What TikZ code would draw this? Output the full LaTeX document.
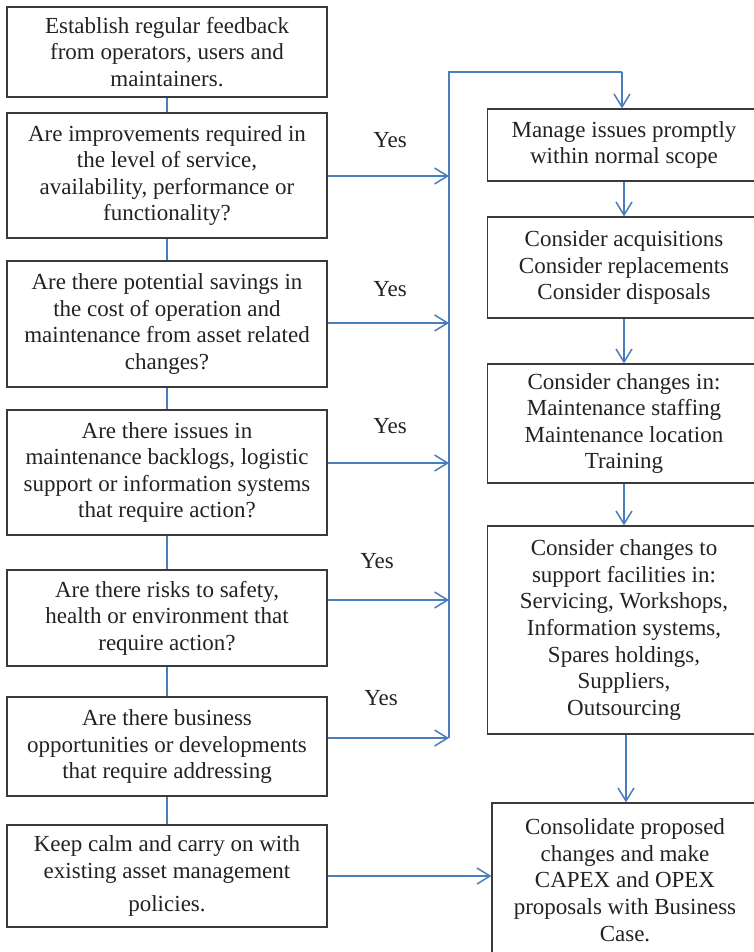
\documentclass[tikz,border=0pt]{standalone}
\usepackage{fontspec}
\setmainfont{Liberation Serif}
\usetikzlibrary{arrows.meta}
\definecolor{conn}{HTML}{4A7EBB}
\definecolor{boxline}{HTML}{3A3A3A}
\definecolor{txt}{HTML}{222222}
\tikzset{
  box/.style={draw=boxline, line width=0.6pt, align=center, inner sep=0pt, text=txt,
    font=\fontsize{11.5}{13.3}\selectfont},
  lbox/.style={box, minimum width=160pt},
  rbox/.style={box, minimum width=136.5pt},
  link/.style={draw=conn, line width=0.75pt},
  flow/.style={link, -{Straight Barb[length=6.5pt,width=8pt,line width=0.75pt]}},
  yes/.style={text=txt, font=\fontsize{11.5}{13.3}\selectfont, inner sep=0pt}
}
\begin{document}
\begin{tikzpicture}[x=0.5pt,y=-0.5pt]
\useasboundingbox (0,0) rectangle (754,952);
\clip (0,0) rectangle (754,952);
% left column
\node[lbox, minimum height=45pt] (b1) at (167,52) {Establish regular feedback\\from operators, users and\\maintainers.};
\node[lbox, minimum height=62.5pt] (b2) at (167,175.5) {Are improvements required in\\the level of service,\\availability, performance or\\functionality?};
\node[lbox, minimum height=63pt] (b3) at (167,324) {Are there potential savings in\\the cost of operation and\\maintenance from asset related\\changes?};
\node[lbox, minimum height=62.5pt] (b4) at (167,472.5) {Are there issues in\\maintenance backlogs, logistic\\support or information systems\\that require action?};
\node[lbox, minimum height=48pt] (b5) at (167,618) {Are there risks to safety,\\health or environment that\\require action?};
\node[lbox, minimum height=49.5pt] (b6) at (167,746.5) {Are there business\\opportunities or developments\\that require addressing};
\node[lbox, minimum height=51pt] (b7) at (167,876) {Keep calm and carry on with\\existing asset management\\[3pt]policies.};
% right column
\node[rbox, minimum height=36pt] (r1) at (624,145) {Manage issues promptly\\within normal scope};
\node[rbox, minimum height=50.5pt] (r2) at (624,267.5) {Consider acquisitions\\Consider replacements\\Consider disposals};
\node[rbox, minimum height=59.5pt] (r3) at (624,423.5) {Consider changes in:\\Maintenance staffing\\Maintenance location\\Training};
\node[rbox, minimum height=104pt] (r4) at (624,630) {Consider changes to\\support facilities in:\\Servicing, Workshops,\\Information systems,\\Spares holdings,\\Suppliers,\\Outsourcing};
\node[box, minimum width=133pt, minimum height=77pt] (r5) at (625,880) {Consolidate proposed\\changes and make\\CAPEX and OPEX\\proposals with Business\\Case.};
% Yes labels
\node[yes] (y1) at (390,140) {Yes};
\node[yes] (y2) at (390,289) {Yes};
\node[yes] (y3) at (390,426) {Yes};
\node[yes] (y4) at (377,561) {Yes};
\node[yes] (y5) at (381,698) {Yes};
% bus coordinates
\coordinate (top) at (449,72);
\coordinate (topr) at (622,72);
\coordinate (j2) at (449,176);
\coordinate (j3) at (449,323);
\coordinate (j4) at (449,463);
\coordinate (j5) at (449,600);
\coordinate (j6) at (449,738);
% left vertical links
\draw[link] (b1) -- (b2);
\draw[link] (b2) -- (b3);
\draw[link] (b3) -- (b4);
\draw[link] (b4) -- (b5);
\draw[link] (b5) -- (b6);
\draw[link] (b6) -- (b7);
% bus
\draw[link] (j6) -- (top) -- (topr);
\draw[flow] (topr) -- (topr |- r1.north);
% yes arrows
\draw[flow] (b2.east |- j2) -- (j2);
\draw[flow] (b3.east |- j3) -- (j3);
\draw[flow] (b4.east |- j4) -- (j4);
\draw[flow] (b5.east |- j5) -- (j5);
\draw[flow] (b6.east |- j6) -- (j6);
\draw[flow] (b7.east) -- (b7.east -| r5.west);
% right column
\draw[flow] (r1.south) -- (r2.north);
\draw[flow] (r2.south) -- (r3.north);
\draw[flow] (r3.south) -- (r4.north);
\draw[flow] ([xshift=1pt]r4.south) -- ([xshift=1pt]r4.south |- r5.north);
\end{tikzpicture}
\end{document}
